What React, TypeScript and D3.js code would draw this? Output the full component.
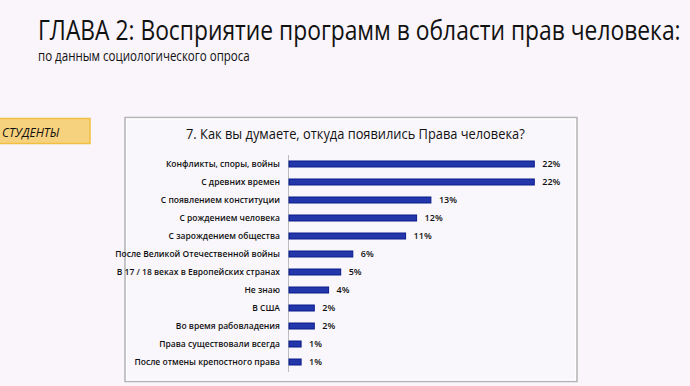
import { useRef, useEffect } from 'react'
import * as d3 from 'd3'

// Survey answers (students), share of respondents, %
const categories = [
  "Конфликты, споры, войны",
  "С древних времен",
  "С появлением конституции",
  "С рождением человека",
  "С зарождением общества",
  "После Великой Отечественной войны",
  "В 17 / 18 веках в Европейских странах",
  "Не знаю",
  "В США",
  "Во время рабовладения",
  "Права существовали всегда",
  "После отмены крепостного права",
]
const values = [22.3, 22.3, 12.9, 11.6, 10.6, 5.8, 4.7, 3.6, 2.3, 2.3, 1.1, 1.1]

const pageTitle = "ГЛАВА 2: Восприятие программ в области прав человека:"
const pageSubtitle = "по данным социологического опроса"
const groupLabel = "СТУДЕНТЫ"
const chartTitle = "7. Как вы думаете, откуда появились Права человека?"

const W = 690
const H = 386
const FONT = "'Open Sans', 'Noto Sans', sans-serif"

// squeeze a left-anchored text horizontally so it spans `width` px (Calibri look)
function squeeze(t: d3.Selection<SVGTextElement, unknown, null, undefined>, x: number, y: number, width: number) {
  const natural = t.node()!.getComputedTextLength()
  const k = Math.min(1, width / natural)
  t.attr("x", 0).attr("y", 0).attr("transform", `translate(${x},${y}) scale(${k},1)`)
}

export default function App() {
  const svgRef = useRef<SVGSVGElement>(null)

  useEffect(() => {
    if (!svgRef.current) return
    const svg = d3.select(svgRef.current)
    svg.selectAll("*").remove()

    // page background
    svg.append("rect")
      .attr("width", W)
      .attr("height", H)
      .style("fill", "#f9f5fb")

    // slide heading
    const title = svg.append("text")
      .style("font-family", FONT)
      .style("font-size", "26.5px")
      .style("fill", "#111")
      .text(pageTitle)
    squeeze(title, 38, 39.5, 643)

    const sub = svg.append("text")
      .style("font-family", FONT)
      .style("font-size", "14.5px")
      .style("fill", "#111")
      .text(pageSubtitle)
    squeeze(sub, 38, 60.5, 212)

    // yellow tag
    svg.append("rect")
      .attr("x", -2)
      .attr("y", 118.5)
      .attr("width", 92)
      .attr("height", 25)
      .style("fill", "#f7d27e")
      .style("stroke", "#f1c043")
      .style("stroke-width", 1.5)

    const tag = svg.append("text")
      .style("font-family", FONT)
      .style("font-size", "12px")
      .style("font-style", "italic")
      .style("fill", "#111")
      .text(groupLabel)
    squeeze(tag, 2, 136.5, 62)

    // chart frame
    svg.append("rect")
      .attr("x", 125)
      .attr("y", 117.5)
      .attr("width", 452)
      .attr("height", 264)
      .style("fill", "#faf7fc")
      .style("stroke", "#b4b4b4")
      .style("stroke-width", 1.5)
    svg.append("rect")
      .attr("x", 126.5)
      .attr("y", 119)
      .attr("width", 449)
      .attr("height", 261)
      .style("fill", "none")
      .style("stroke", "#ffffff")
      .style("stroke-width", 1)

    const ct = svg.append("text")
      .style("font-family", FONT)
      .style("font-size", "15px")
      .style("fill", "#111")
      .text(chartTitle)
    squeeze(ct, 186, 139, 339)

    // scales
    const x = d3.scaleLinear()
      .domain([0, 25])
      .range([289, 564])

    const y = d3.scaleBand<string>()
      .domain(categories)
      .range([155, 371])
      .paddingInner(0.667)
      .paddingOuter(0.333)

    // axis line
    svg.append("line")
      .attr("x1", 288.5)
      .attr("x2", 288.5)
      .attr("y1", 155)
      .attr("y2", 372)
      .style("stroke", "#bdbdbd")
      .style("stroke-width", 1)

    const rows = svg.selectAll(".row")
      .data(categories)
      .enter()
      .append("g")
      .attr("class", "row")

    rows.append("rect")
      .attr("x", x(0))
      .attr("y", d => y(d)!)
      .attr("width", (d, i) => x(values[i]) - x(0))
      .attr("height", y.bandwidth())
      .style("fill", "#2336aa")
      .style("stroke", "#0b1c8c")
      .style("stroke-width", 1)

    rows.append("text")
      .attr("x", 280)
      .attr("y", d => y(d)! + y.bandwidth() / 2)
      .attr("dy", "0.35em")
      .attr("text-anchor", "end")
      .style("font-family", FONT)
      .style("font-size", "8.5px")
      .style("font-weight", "600")
      .style("fill", "#111")
      .text(d => d)

    rows.append("text")
      .attr("x", (d, i) => x(values[i]) + 8)
      .attr("y", d => y(d)! + y.bandwidth() / 2)
      .attr("dy", "0.35em")
      .style("font-family", FONT)
      .style("font-size", "9px")
      .style("font-weight", "600")
      .style("fill", "#111")
      .text((d, i) => `${Math.round(values[i])}%`)
  }, [])

  return (
    <svg
      ref={svgRef}
      width={W}
      height={H}
      style={{ position: 'absolute', left: 0, top: 0 }}
    />
  )
}
